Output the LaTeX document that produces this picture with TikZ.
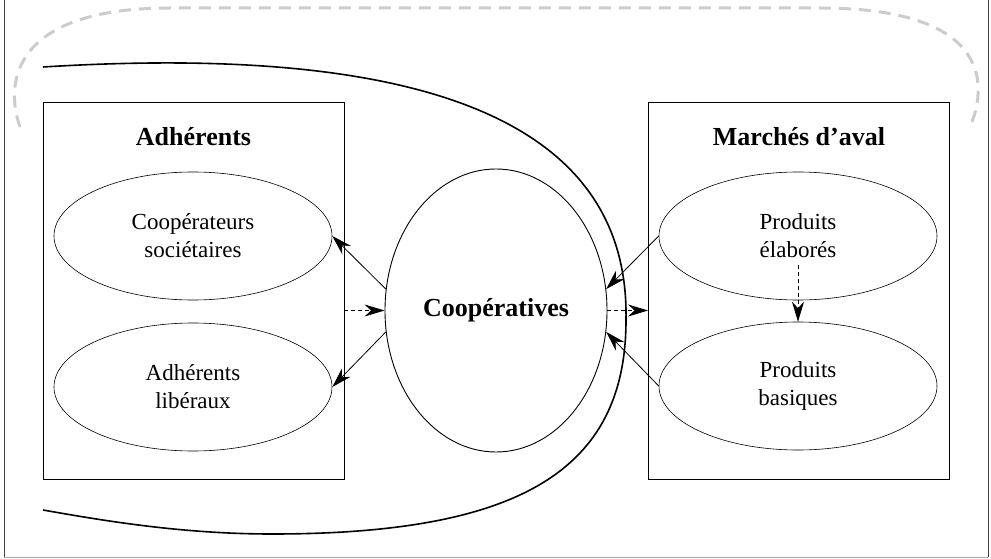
\documentclass[tikz,border=0pt]{standalone}
\usepackage{fontspec}
\setmainfont{Liberation Serif}
\usetikzlibrary{arrows.meta,shapes.geometric}

\begin{document}
\begin{tikzpicture}[x=1pt,y=-1pt,
		groupbox/.style={draw,line width=0.9pt,minimum width=301pt,minimum height=377pt},
		member/.style={draw,ellipse,line width=0.6pt,minimum width=278pt,minimum height=128pt,align=center,font=\fontsize{23}{28}\selectfont},
		heading/.style={font=\fontsize{26}{30}\selectfont\bfseries},
		flow/.style={-{Stealth[length=20pt,width=12pt]},line width=0.8pt},
		dashflow/.style={flow,dash pattern=on 4pt off 3pt}]
		\useasboundingbox (0,0) rectangle (991,559);
		\draw[black!75,line width=1pt] (4,0) -- (4,557);
		\draw[black!75,line width=1pt] (988,0) -- (988,557);
		\draw[gray!70,line width=1pt] (4,557) -- (988,557);
		\draw[gray!40,line width=3pt,dash pattern=on 12pt off 8pt] (20,127) .. controls (5,85) and (10,8) .. (170,8) -- (820,8) .. controls (985,8) and (990,80) .. (970,127);
		
		\node[groupbox] (adh) at (193.5,290.5) {};
		\node[groupbox] (mar) at (799,290.5) {};
		\node[heading] (adhtitle) at (193.5,137) {Adhérents};
		\node[heading] (martitle) at (799,137) {Marchés d’aval};
		\node[member] (coopsoc) at (193,236) {Coopérateurs\\sociétaires};
		\node[member] (adhlib) at (193,387) {Adhérents\\libéraux};
		\node[member] (prodel) at (798,236) {Produits\\élaborés};
		\node[member] (prodbas) at (798,386) {Produits\\basiques};
		\node[draw,ellipse,line width=0.9pt,minimum width=222pt,minimum height=283pt,font=\fontsize{26}{30}\selectfont\bfseries] (coop) at (496,310.5) {Coopératives};
		
		\draw[line width=1.6pt] (43,67) .. controls (400,45) and (630,110) .. (626,320) .. controls (626,470) and (520,534) .. (272,534) .. controls (180,534) and (100,520) .. (43,510);
		
		\draw[flow] (coop.169) -- (coopsoc.east);
		\draw[flow] (coop.191) -- (adhlib.east);
		\draw[flow] (prodel.west) -- (coop.11);
		\draw[flow] (prodbas.west) -- (coop.349);
		\draw[dashflow] (coop.west -| adh.east) -- (coop.west);
		\draw[dashflow] (coop.east) -- (coop.east -| mar.west);
		\draw[dashflow] ([yshift=-29pt]prodel.center) -- (prodbas.north);
	\end{tikzpicture}
\end{document}
